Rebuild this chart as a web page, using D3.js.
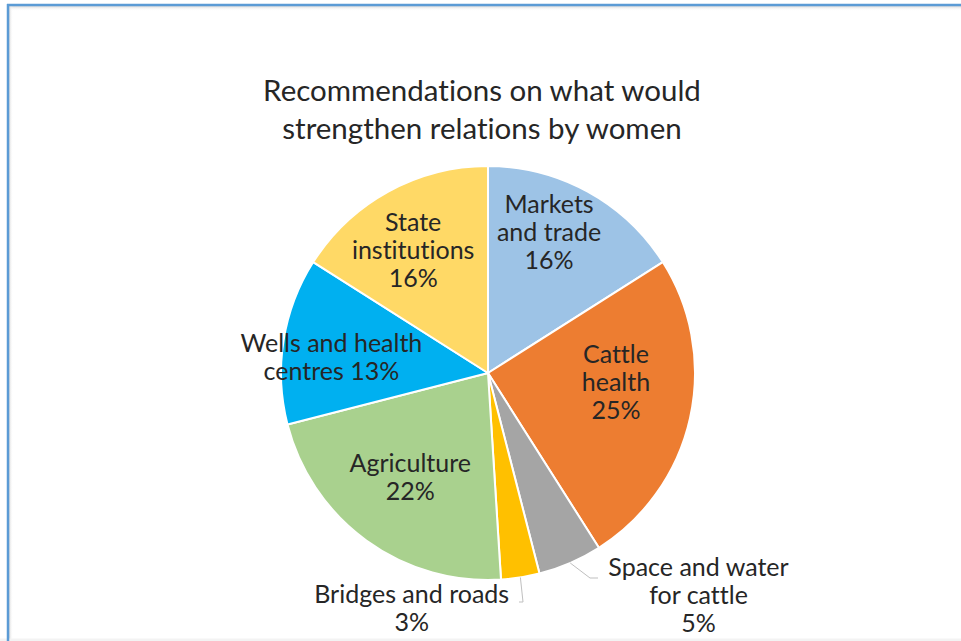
<!DOCTYPE html>
<html>
<head>
<meta charset="utf-8">
<script src="https://cdn.jsdelivr.net/npm/d3@7"></script>
<style>
  html, body { margin: 0; padding: 0; background: #fff; }
  svg { display: block; }
  text { font-variant-ligatures: none; font-feature-settings: "liga" 0; }
</style>
</head>
<body>
<svg id="chart" width="961" height="641"></svg>
<script>
// Survey answers: what would strengthen relations (women respondents)
const categories = [
  "Markets and trade",
  "Cattle health",
  "Space and water for cattle",
  "Bridges and roads",
  "Agriculture",
  "Wells and health centres",
  "State institutions"
];
const shares = [16, 25, 5, 3, 22, 13, 16];
const colors = ["#9DC3E6", "#ED7D31", "#A5A5A5", "#FFC000", "#A9D18E", "#00B0F0", "#FFD966"];

// How each label wraps over lines (the last line carries the percentage)
const labelLines = [
  ["Markets", "and trade"],
  ["Cattle", "health"],
  ["Space and water", "for cattle"],
  ["Bridges and roads"],
  ["Agriculture"],
  ["Wells and health", "centres"],
  ["State", "institutions"]
];
// true when the percentage joins the last text line instead of its own line
const pctInline = [false, false, false, false, false, true, false];

const titleLines = ["Recommendations on what would", "strengthen relations by women"];

// Label placement: polar position (degrees clockwise from 12 o'clock, fraction of radius)
const labelPolar = [
  { a: 23.5, r: 0.74 },
  { a: 94.5, r: 0.62 },
  { a: 136.6, r: 1.48 },
  { a: 197.9, r: 1.20 },
  { a: 216.6, r: 0.63 },
  { a: 275.5, r: 0.76 },
  { a: 328.4, r: 0.69 }
];
// Leader lines for labels sitting outside the pie: [start fraction of radius, elbow, end]
const leaders = {
  2: { from: 1.0, elbow: [590, 578], to: [598, 578] },
  3: { from: 1.0, elbow: [523, 602], to: [519, 602] }
};

const W = 961, H = 641;
const cx = 488, cy = 373, R = 207;
const svg = d3.select("#chart");

// Frame with a soft inner shadow
const defs = svg.append("defs");
const gTop = defs.append("linearGradient").attr("id", "shTop").attr("x1", 0).attr("y1", 0).attr("x2", 0).attr("y2", 1);
gTop.append("stop").attr("offset", "0%").attr("stop-color", "#d8d8d8");
gTop.append("stop").attr("offset", "100%").attr("stop-color", "#ffffff").attr("stop-opacity", 0);
const gLeft = defs.append("linearGradient").attr("id", "shLeft").attr("x1", 0).attr("y1", 0).attr("x2", 1).attr("y2", 0);
gLeft.append("stop").attr("offset", "0%").attr("stop-color", "#d8d8d8");
gLeft.append("stop").attr("offset", "100%").attr("stop-color", "#ffffff").attr("stop-opacity", 0);

svg.append("rect").attr("x", 9).attr("y", 6).attr("width", W).attr("height", 5).attr("fill", "url(#shTop)");
svg.append("rect").attr("x", 9).attr("y", 6).attr("width", 4).attr("height", H).attr("fill", "url(#shLeft)");
svg.append("rect").attr("x", 0).attr("y", 638.5).attr("width", W).attr("height", 3).attr("fill", "#f3f3f3");
svg.append("line").attr("x1", 7).attr("x2", W).attr("y1", 5).attr("y2", 5)
  .attr("stroke", "#5B9BD5").attr("stroke-width", 2.5);
svg.append("line").attr("x1", 8).attr("x2", 8).attr("y1", 4).attr("y2", H)
  .attr("stroke", "#5B9BD5").attr("stroke-width", 2.5);

// Title
const font = "Lato, 'Open Sans', sans-serif";
svg.append("text")
  .attr("x", 482).attr("y", 101)
  .attr("text-anchor", "middle")
  .attr("font-family", font).attr("font-size", 29.5)
  .attr("fill", "#262626")
  .selectAll("tspan").data(titleLines).join("tspan")
  .attr("x", 482).attr("dy", (d, i) => i === 0 ? 0 : 38)
  .text(d => d);

// Pie
const data = categories.map((c, i) => ({ name: c, value: shares[i], i }));
const pie = d3.pie().value(d => d.value).sort(null);
const arcs = pie(data);
const arc = d3.arc().innerRadius(0).outerRadius(R);
const color = d3.scaleOrdinal().domain(categories).range(colors);

const g = svg.append("g").attr("transform", `translate(${cx},${cy})`);
g.selectAll("path").data(arcs).join("path")
  .attr("d", arc)
  .attr("fill", d => color(d.data.name))
  .attr("stroke", "#ffffff")
  .attr("stroke-width", 2)
  .attr("stroke-linejoin", "round");

// Leader lines for the outside labels
arcs.forEach((d, i) => {
  const ld = leaders[i];
  if (!ld) return;
  const mid = (d.startAngle + d.endAngle) / 2;
  const sx = Math.sin(mid) * R * ld.from, sy = -Math.cos(mid) * R * ld.from;
  const pts = [[cx + sx, cy + sy], ld.elbow, ld.to];
  svg.append("path")
    .attr("d", d3.line()(pts))
    .attr("fill", "none").attr("stroke", "#bfbfbf").attr("stroke-width", 1);
});

// Data labels
const fmt = d3.format(".0%");
const lineH = 28;
arcs.forEach((d, i) => {
  const p = labelPolar[i];
  const a = p.a * Math.PI / 180;
  const x = cx + Math.sin(a) * R * p.r;
  const y = cy - Math.cos(a) * R * p.r;
  const pct = fmt(d.data.value / 100);
  let lines = labelLines[i].slice();
  if (pctInline[i]) lines[lines.length - 1] += " " + pct; else lines.push(pct);
  const n = lines.length;
  const t = svg.append("text")
    .attr("text-anchor", "middle")
    .attr("font-family", font).attr("font-size", 25)
    .attr("fill", "#262626");
  lines.forEach((ln, k) => {
    t.append("tspan")
      .attr("x", x)
      .attr("y", y + (k - (n - 1) / 2) * lineH + 8)
      .text(ln);
  });
});
</script>
</body>
</html>
